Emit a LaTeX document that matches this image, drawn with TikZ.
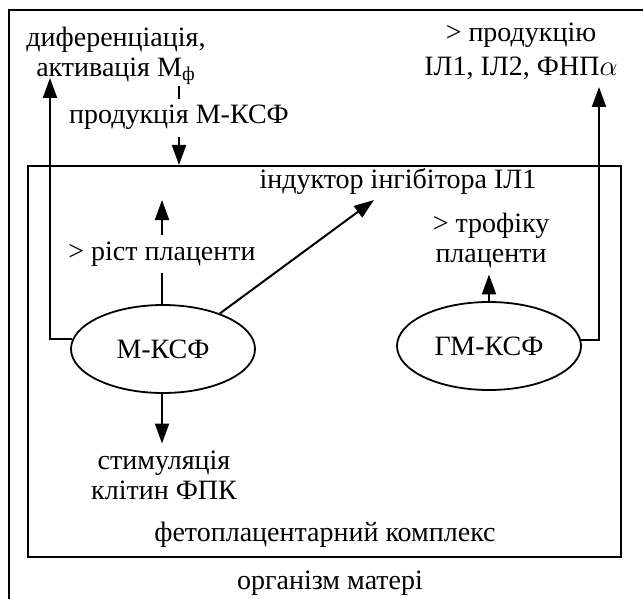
\documentclass[tikz,border=0pt]{standalone}
\usepackage{fontspec}
\setmainfont{Liberation Serif}
\usetikzlibrary{arrows.meta,positioning,shapes.geometric}

\tikzset{
    arr/.style = {-{Triangle[length=10pt,width=7pt]}, line width=1pt},
    oval/.style = {draw, ellipse, line width=0.9pt, minimum width=92pt, minimum height=44pt},
    lbl/.style = {align=center},
}

\begin{document}
\begin{tikzpicture}[x=0.5pt, y=-0.5pt, font=\fontsize{14}{15}\selectfont]
    \clip (0,0) rectangle (643,599);
    % organism frame, cut off at the right and at the bottom
    \draw[line width=1pt] (9,620) |- (660,10);
    \node[draw, line width=1pt, minimum width=296.5pt, minimum height=195.5pt] (fpk) at (324.5,361.5) {};

    \node[oval] (mcsf) at (163,349) {М-КСФ};
    \node[oval] (gmcsf) at (489,346) {ГМ-КСФ};

    \node[lbl] (dif) at (116,56) {диференціація,\\активація М\textsubscript{ф}};
    \node[lbl] (prod) at (521,51) {> продукцію\\[2pt]ІЛ1, ІЛ2, ФНП$\alpha$};
    \node (ind) at (398,182) {індуктор інгібітора ІЛ1};
    \node[lbl] (trof) at (491,240) {> трофіку\\плаценти};
    \node[lbl] (stim) at (164,475) {стимуляція\\клітин ФПК};
    \node (fpkname) at (325,535) {фетоплацентарний комплекс};
    \node (mother) at (330,583) {організм матері};

    \coordinate (difend) at (50,78);
    \coordinate (prodtop) at (179,86);
    \coordinate (prodend) at (599,87);
    \coordinate (indend) at (374,200);
    \coordinate (ristend) at (162,200);

    \draw[arr] (mcsf.174) -| (difend);
    \draw[arr] (prodtop) -- node[pos=0.4, fill=white] {продукція М-КСФ} (fpk.north -| prodtop);
    \draw[arr] (mcsf.north -| ristend) -- node[pos=0.48, fill=white] {> ріст плаценти} (ristend);
    \draw[arr] (mcsf.32) -- (indend);
    \draw[arr] (mcsf.south -| ristend) -- (stim.north -| ristend);
    \draw[arr] (gmcsf.north) -- (trof.south -| gmcsf.north);
    \draw[arr] (gmcsf.4) -| (prodend);
\end{tikzpicture}
\end{document}
